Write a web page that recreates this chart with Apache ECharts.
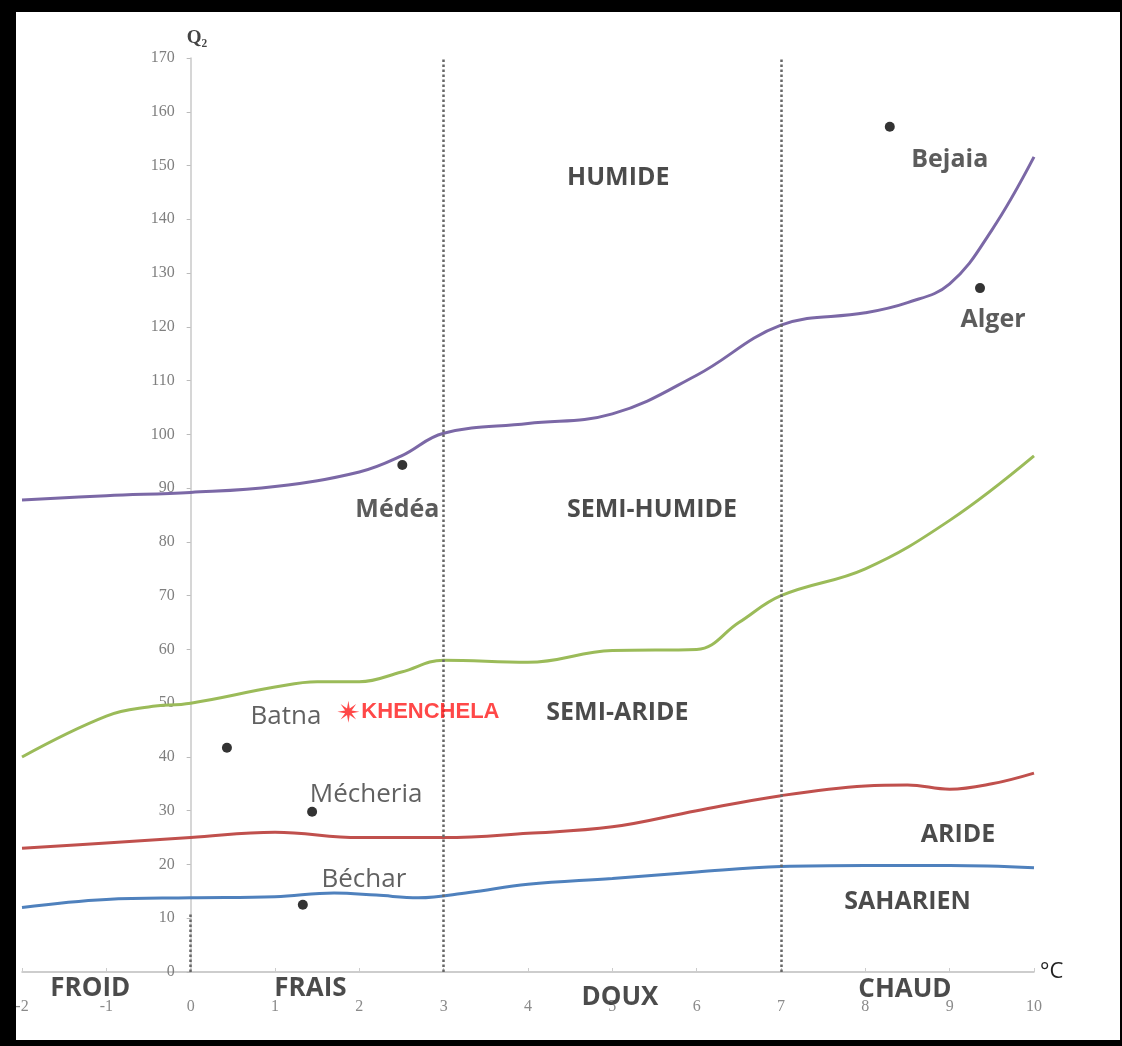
<!DOCTYPE html>
<html><head><meta charset="utf-8">
<script src="https://cdn.jsdelivr.net/npm/echarts@6/dist/echarts.min.js"></script>
<style>
html,body{margin:0;padding:0;background:#000;width:1122px;height:1046px;overflow:hidden}
#c{position:absolute;left:16px;top:12px;width:1104px;height:1028px;background:#fff}
</style>
</head><body><div id="c"></div>
<script>
// ---- data ----
const xTicks = [-2,-1,0,1,2,3,4,5,6,7,8,9,10];
const yTicks = [0,10,20,30,40,50,60,70,80,90,100,110,120,130,140,150,160,170];

const humideX = [-2,-1,0,1,2,2.5,3,4,5,6,7,8,8.5,9,9.5,10];
const humideY = [87.8,88.6,89.2,90.3,93,96,100.2,102,103.8,111,120.3,122.6,124.5,128,138,151.6];

const semiHumideX = [-2,-1,-0.5,0,1,1.5,2,2.5,3,4,5,6,6.5,7,8,9,10];
const semiHumideY = [40,47.6,49.3,50,53,54,54,55.8,58,57.6,59.8,60,65,70,75,84,96];

const semiAridX = [-2,-1,0,1,2,3,4,5,6,7,8,8.5,9,9.5,10];
const semiAridY = [23,24,25,26,25,25,25.8,27,30,32.8,34.6,34.8,34,35,37];

const aridX = [-2,-1,0,1,1.7,2.2,2.7,3.3,4,5,6,7,8,9,10];
const aridY = [12,13.5,13.8,14,14.7,14.3,13.8,14.8,16.3,17.4,18.6,19.6,19.8,19.8,19.4];

const stations = ['Bejaia','Alger','Médéa','Batna','Mécheria','Béchar'];
const stationX = [8.29, 9.36, 2.51, 0.43, 1.44, 1.33];
const stationY = [157.2, 127.2, 94.3, 41.7, 29.8, 12.5];

const targetName = 'KHENCHELA';
const targetX = 1.87;
const targetY = 48.4;

const zoneNames = ['HUMIDE','SEMI-HUMIDE','SEMI-ARIDE','ARIDE','SAHARIEN'];
const zoneX = [5.07, 5.47, 5.06, 9.1, 8.5];
const zoneY = [147.7, 86, 48.2, 25.5, 13];

const winterNames = ['FROID','FRAIS','DOUX','CHAUD'];
const winterX = [-1.19, 1.42, 5.09, 8.47];
const winterY = [-3, -3, -4.8, -3.3];

const boundsX = [3, 7];

// ---- styles ----
const labelOffsets = {
  'Bejaia':[60,33],'Alger':[13,32],'Médéa':[-5,45],
  'Batna':[59,-31],'Mécheria':[54,-17],'Béchar':[61,-25]
};
const boldStations = {'Bejaia':true,'Alger':true,'Médéa':true};

function zip(a,b){return a.map((v,i)=>[v,b[i]]);}

// asterisk symbol path
let ast = '';
for (let i=0;i<16;i++){
  const a = i*Math.PI/8 - Math.PI/2;
  const r = i%2===0 ? 10 : 3.2;
  ast += (i===0?'M':'L') + (r*Math.cos(a)).toFixed(3) + ' ' + (r*Math.sin(a)).toFixed(3) + ' ';
}
ast += 'Z';

const font = '"Open Sans","Noto Sans",sans-serif';
const GRID = {left:6, right:86, top:46, bottom:68};
const W = 1104;
// pixel distance from the plot's left edge to x = 0, for placing the y axis on zero
const yAxisShift = (W - GRID.left - GRID.right) * (0 - (-2)) / (10 - (-2));

function curve(name, xs, ys, color){
  return {
    name, type:'line', data: zip(xs,ys), smooth:0.4, showSymbol:false, symbol:'none',
    lineStyle:{color, width:3}, silent:true, z:3
  };
}

const chart = echarts.init(document.getElementById('c'));
chart.setOption({
  animation:false,
  backgroundColor:'#fff',
  grid:Object.assign({containLabel:false, outerBoundsMode:'none'}, GRID),
  xAxis:{
    type:'value', min:-2, max:10, interval:1,
    name:'°C', nameLocation:'end', nameGap:6,
    nameTextStyle:{color:'#222', fontSize:22, fontFamily:font, padding:[0,0,34,0]},
    axisLine:{lineStyle:{color:'#bdbdbd', width:1.5}},
    axisTick:{show:true, inside:true, length:4, lineStyle:{color:'#ccc'}},
    axisLabel:{margin:27, color:'#8a8a8a', fontSize:16, fontFamily:'"Liberation Serif",serif',
      formatter: v => xTicks.includes(v) ? String(v) : ''},
    splitLine:{show:false}
  },
  yAxis:{
    type:'value', min:0, max:170, interval:10,
    offset: -yAxisShift,
    name:'Q₂', nameLocation:'end', nameGap:10,
    nameTextStyle:{color:'#444', fontSize:19, fontWeight:'bold', fontFamily:'"Liberation Serif",serif', align:'left', padding:[0,0,0,-4]},
    axisLine:{onZero:false, lineStyle:{color:'#c8c8c8', width:1.5}},
    axisTick:{show:true, length:4, lineStyle:{color:'#bbb'}},
    axisLabel:{margin:16, color:'#7f7f7f', fontSize:16, fontFamily:'"Liberation Serif",serif',
      formatter: v => yTicks.includes(v) ? String(v) : ''},
    splitLine:{show:false}
  },
  series:[
    {
      name:'bounds', type:'line', data:[], silent:true, z:2,
      markLine:{
        silent:true, symbol:['none','none'], label:{show:false},
        lineStyle:{color:'#666', type:'dotted', width:2.5},
        data: boundsX.map(v=>({xAxis:v})).concat([
          [{coord:[0,0]},{coord:[0,11]}],
          [{coord:[10,0], lineStyle:{type:'solid', color:'#777', width:3}},{coord:[10,171]}]
        ])
      }
    },
    curve('humide', humideX, humideY, '#7b68a6'),
    curve('semi-humide', semiHumideX, semiHumideY, '#9bbb59'),
    curve('semi-aride', semiAridX, semiAridY, '#c0504d'),
    curve('aride', aridX, aridY, '#4f81bd'),
    {
      name:'stations', type:'scatter', symbol:'circle', symbolSize:10, z:5, clip:false,
      itemStyle:{color:'#000'},
      data: stations.map((n,i)=>({
        name:n, value:[stationX[i], stationY[i]],
        label:{
          show:true, position:'inside', formatter:n,
          offset: labelOffsets[n],
          color: boldStations[n] ? '#333' : '#3a3a3a',
          fontWeight: boldStations[n] ? 'bold' : 'normal',
          fontSize: boldStations[n] ? 25 : 26, fontFamily: font
        }
      }))
    },
    {
      name:'target', type:'scatter', symbol:'path://'+ast, symbolSize:22, z:6, clip:false,
      itemStyle:{color:'#ff1a1a'},
      data:[{name:targetName, value:[targetX, targetY]}],
      label:{show:true, position:'right', distance:2, formatter:'{b}', color:'#ff1a1a',
        fontWeight:'bold', fontSize:22, fontFamily:'"Liberation Sans",Arial,sans-serif'}
    },
    {
      name:'zones', type:'scatter', symbolSize:0, z:4, clip:false, silent:true,
      data: zoneNames.map((n,i)=>({name:n, value:[zoneX[i], zoneY[i]]})),
      label:{show:true, position:'inside', formatter:'{b}', color:'#1e1e1e',
        fontWeight:'bold', fontSize:25, fontFamily:font}
    },
    {
      name:'winter', type:'scatter', symbolSize:0, z:4, clip:false, silent:true,
      data: winterNames.map((n,i)=>({name:n, value:[winterX[i], winterY[i]]})),
      label:{show:true, position:'inside', formatter:'{b}', color:'#1e1e1e',
        fontWeight:'bold', fontSize:26, fontFamily:font}
    }
  ]
});
</script>
</body></html>
